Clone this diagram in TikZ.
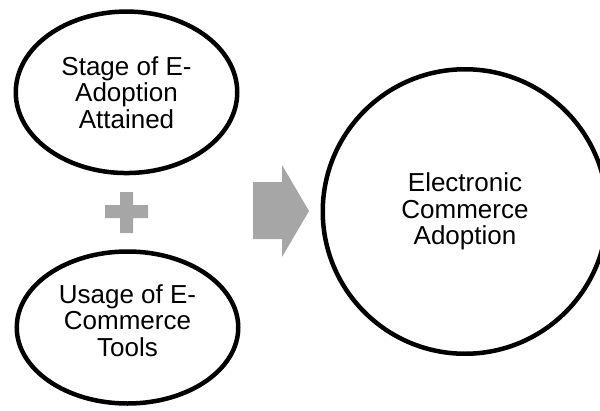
\documentclass[tikz,border=0pt]{standalone}
\usepackage{fontspec}
\setmainfont{Liberation Sans}
\usetikzlibrary{shapes.geometric}
\definecolor{shapegray}{HTML}{A6A6A6}
\tikzset{
  oval/.style={ellipse, draw=black, line width=4.5pt, inner sep=0pt,
    minimum width=221.5pt},
  bigtxt/.style={align=center, inner sep=0pt,
    font=\fontsize{26}{26.5}\selectfont},
  graybox/.style={fill=shapegray, draw=none}
}
\begin{document}
\begin{tikzpicture}[x=1pt,y=-1pt]
\useasboundingbox (0,0) rectangle (600,410);
\clip (0,0) rectangle (600,410);
% top ellipse
\node[oval, minimum height=161.5pt, bigtxt] (stage) at (126.5,92.3)
  {Stage of E-\\Adoption\\Attained};
% bottom ellipse
\node[oval, minimum height=152pt] (usage) at (127.5,327.5) {};
\node[bigtxt] (usagetxt) at (127.5,320.5) {Usage of E-\\Commerce\\Tools};
% big circle
\node[circle, draw=black, line width=4.5pt, minimum size=284.5pt, inner sep=0pt,
  bigtxt] (eca) at (465,211.5) {Electronic\\Commerce\\Adoption};
% plus sign
\fill[graybox] (120,192) -- (133,192) -- (133,205) -- (148,205) -- (148,218)
  -- (133,218) -- (133,233) -- (120,233) -- (120,218) -- (105,218)
  -- (105,205) -- (120,205) -- cycle;
% arrow
\fill[graybox] (253,182) -- (282,182) -- (282,165) -- (309,211) -- (282,257)
  -- (282,239) -- (253,239) -- cycle;
\end{tikzpicture}
\end{document}
